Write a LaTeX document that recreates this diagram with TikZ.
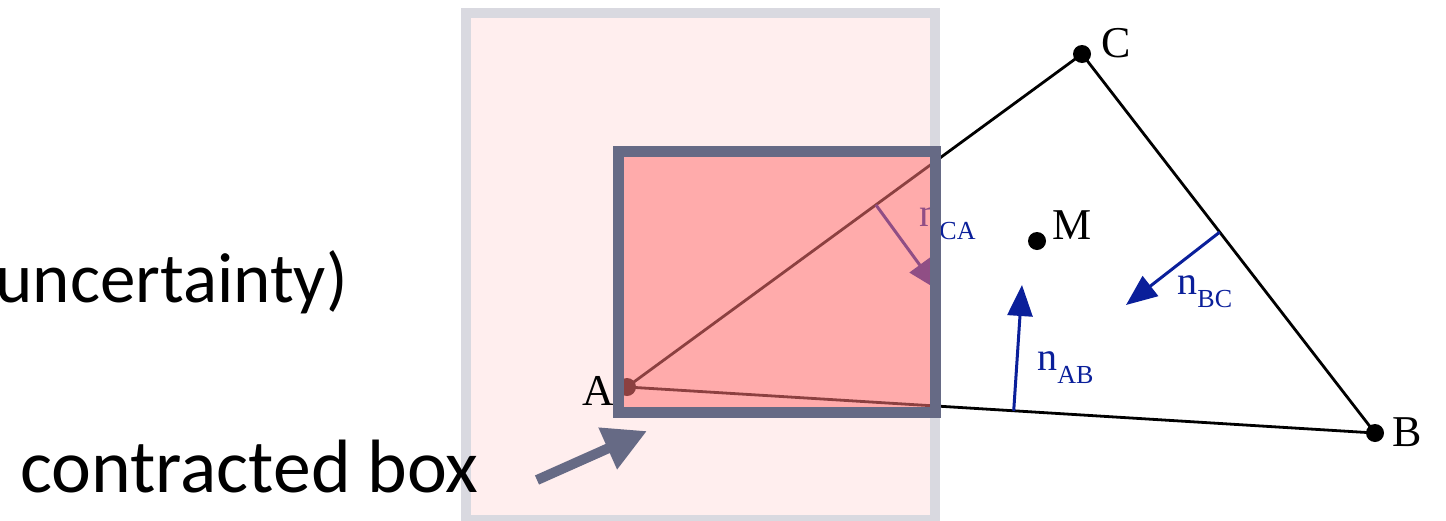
\documentclass[tikz,border=0pt]{standalone}
\usepackage{fontspec}
\setmainfont{Liberation Serif}
\newfontfamily\calloutfont{Carlito}
\usetikzlibrary{arrows.meta,calc}
\definecolor{boxgray}{RGB}{102,106,133}
\definecolor{outeredge}{RGB}{217,217,224}
\definecolor{outerfill}{RGB}{255,238,238}
\definecolor{innerred}{RGB}{255,117,117}
\definecolor{normalblue}{RGB}{10,31,154}
\newcommand{\nsub}[1]{n\raisebox{-6.5pt}{\fontsize{13}{13}\selectfont #1}}

\begin{document}
\begin{tikzpicture}[x=0.5pt, y=-0.5pt,
    vertex/.style={circle, fill=black, inner sep=0pt, minimum size=9pt},
    edge/.style={black, line width=1.4pt},
    normal/.style={-{Triangle[length=15.5pt, width=12.5pt]}, normalblue, line width=1.5pt},
    ptlabel/.style={font=\fontsize{22}{22}\selectfont, inner sep=0pt, anchor=base west},
    nlab/.style={normalblue, font=\fontsize{20}{20}\selectfont, inner sep=0pt, anchor=base west},
    outerbox/.style={draw=outeredge, fill=outerfill, line width=5pt},
    innerbox/.style={draw=boxgray, fill=innerred, fill opacity=0.55, line width=5.5pt},
    pointer/.style={-{Triangle[length=21.5pt, width=21.5pt]}, boxgray, line width=5pt},
    callout/.style={inner sep=0pt}]

\useasboundingbox (0,0) rectangle (1446,520);
\clip (0,0) rectangle (1446,520);

% uncertainty box
\draw[outerbox] (466,12.5) rectangle (935,520);

% triangle
\node[vertex] (A) at (627,387) {};
\node[vertex] (B) at (1375,433) {};
\node[vertex] (C) at (1082,54) {};
\node[vertex] (M) at (1037,241) {};
\draw[edge] (A.center) -- (B.center) -- (C.center) -- cycle;

\node[ptlabel] (labA) at (582,405) {A};
\node[ptlabel] (labB) at (1392,446) {B};
\node[ptlabel] (labC) at (1101,57) {C};
\node[ptlabel] (labM) at (1052,239) {M};

% edge normals
\coordinate (ab0) at ($(A.center)!0.517!(B.center)$);
\coordinate (ab1) at (1022,285);
\coordinate (bc0) at ($(C.center)!0.47!(B.center)$);
\coordinate (bc1) at (1126,305);
\coordinate (ca0) at ($(A.center)!0.547!(C.center)$);
\coordinate (ca1) at (938,290);
\draw[normal] (ab0) -- (ab1);
\draw[normal] (bc0) -- (bc1);
\draw[normal] (ca0) -- (ca1);

\node[nlab] (nab) at (1037,370) {\nsub{AB}};
\node[nlab] (nbc) at (1177,294) {\nsub{BC}};
\node[nlab] (nca) at (919,226) {\nsub{CA}};

% contracted box
\draw[innerbox] (618,151) rectangle (935.5,412);

\node[callout, anchor=base east, font=\calloutfont\fontsize{35.5}{36}\selectfont] (uncert) at (348,302) {(uncertainty)};
\node[callout, anchor=base west, font=\calloutfont\fontsize{37.8}{38}\selectfont] (contr) at (20,492) {contracted box};
\coordinate (cbtail) at (537,480);
\coordinate (cbtip) at (647,431);
\draw[pointer] (cbtail) -- (cbtip);
\end{tikzpicture}
\end{document}
